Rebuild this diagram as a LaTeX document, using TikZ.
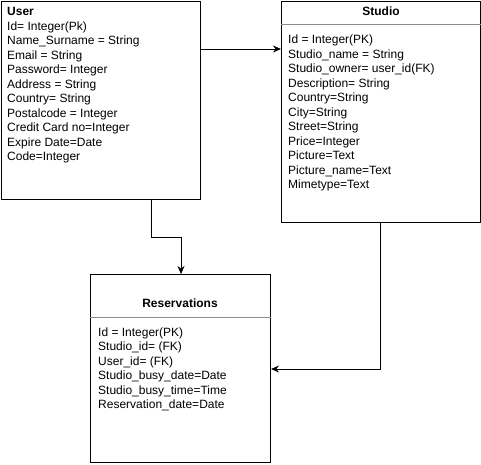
\documentclass[tikz,border=0pt]{standalone}
\usepackage{fontspec}
\setmainfont{Liberation Sans}
\usetikzlibrary{arrows.meta}
\begin{document}
\begin{tikzpicture}[x=1pt,y=-1pt,
  entity/.style={draw=black,line width=1pt,anchor=north west,inner sep=0pt,fill=white},
  sepline/.style={draw=black!45,line width=1pt},
  % multi-line field lists are placed by the baseline of their last line
  fields/.style={anchor=base west,inner sep=0pt,align=left,font=\fontsize{12}{14.5}\selectfont},
  title/.style={inner sep=0pt,font=\fontsize{12}{14.5}\selectfont\bfseries},
  link/.style={draw=black,line width=1pt,-{Stealth[length=8pt,width=7pt]}}]
\useasboundingbox (0,0) rectangle (481,464);
\fill[white] (0,0) rectangle (481,464);

% User entity
\node[entity,minimum width=199pt,minimum height=198pt] (user) at (1,1) {};
\node[fields] (usertext) at (7,160.5) {\textbf{User}\\
Id= Integer(Pk)\\
Name\_Surname = String\\
Email = String\\
Password= Integer\\
Address = String\\
Country= String\\
Postalcode = Integer\\
Credit Card no=Integer\\
Expire Date=Date\\
Code=Integer};

% Studio entity
\node[entity,minimum width=199pt,minimum height=221pt] (studio) at (281,1) {};
\draw[sepline] (studio.west |- 0,24) -- (studio.east |- 0,24);
\node[title] (studiotitle) at (381,11) {Studio};
\node[fields] (studiotext) at (288,188.5) {Id = Integer(PK)\\
Studio\_name = String\\
Studio\_owner= user\_id(FK)\\
Description= String\\
Country=String\\
City=String\\
Street=String\\
Price=Integer\\
Picture=Text\\
Picture\_name=Text\\
Mimetype=Text};

% Reservations entity
\node[entity,minimum width=180pt,minimum height=188pt] (res) at (90,274) {};
\draw[sepline] (res.west |- 0,317) -- (res.east |- 0,317);
\node[title] (restitle) at (180,303) {Reservations};
\node[fields] (restext) at (98,408.5) {Id = Integer(PK)\\
Studio\_id= (FK)\\
User\_id= (FK)\\
Studio\_busy\_date=Date\\
Studio\_busy\_time=Time\\
Reservation\_date=Date};

% Relationships
\coordinate (ubend) at (151,237);
\coordinate (sbend) at (380,369);
\draw[link] (user.east |- 0,49) -- (studio.west |- 0,49);
\draw[link] (user.south -| ubend) -- (ubend) -| (res.north -| 181,0);
\draw[link] (studio.south -| sbend) -- (sbend) -- (res.east |- sbend);
\end{tikzpicture}
\end{document}
